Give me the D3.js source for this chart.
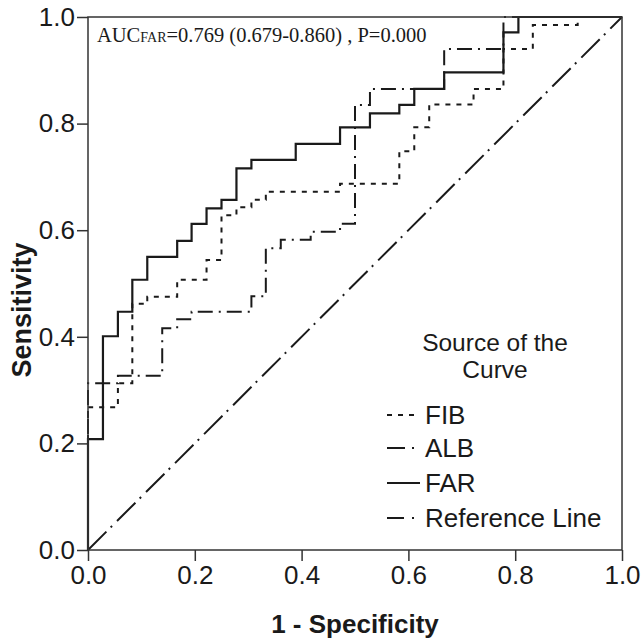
<!DOCTYPE html>
<html>
<head>
<meta charset="utf-8">
<script src="https://cdn.jsdelivr.net/npm/d3@7"></script>
<style>
  html, body { margin: 0; padding: 0; background: #fff; }
  svg { display: block; }
</style>
</head>
<body>
<svg id="chart" width="643" height="638"></svg>
<script>
// ---- Data (ROC step points: 1 - specificity, sensitivity) ----
const fibFpr = [0, 0.056, 0.083, 0.111, 0.167, 0.222, 0.25, 0.278, 0.306, 0.333, 0.472, 0.583, 0.611, 0.639, 0.722, 0.778, 0.833, 0.917, 1];
const fibTpr = [0, 0.268, 0.313, 0.462, 0.475, 0.507, 0.544, 0.628, 0.643, 0.657, 0.672, 0.687, 0.748, 0.793, 0.836, 0.865, 0.940, 0.985, 1];

const albFpr = [0, 0.056, 0.139, 0.167, 0.194, 0.306, 0.333, 0.361, 0.417, 0.472, 0.5, 0.528, 0.667, 0.778, 1];
const albTpr = [0, 0.313, 0.327, 0.416, 0.433, 0.447, 0.476, 0.566, 0.582, 0.597, 0.612, 0.835, 0.865, 0.940, 1];

const farFpr = [0, 0.028, 0.056, 0.083, 0.111, 0.167, 0.194, 0.222, 0.25, 0.278, 0.306, 0.389, 0.472, 0.528, 0.583, 0.611, 0.667, 0.778, 0.806, 1];
const farTpr = [0, 0.208, 0.401, 0.447, 0.507, 0.550, 0.580, 0.612, 0.641, 0.657, 0.716, 0.732, 0.762, 0.793, 0.819, 0.835, 0.865, 0.896, 0.971, 1];

const refFpr = [0, 1];
const refTpr = [0, 1];

const seriesNames = ["FIB", "ALB", "FAR", "Reference Line"];
const tickValues = [0, 0.2, 0.4, 0.6, 0.8, 1.0];
const xTitle = "1 - Specificity";
const yTitle = "Sensitivity";
const legendTitle = ["Source of the", "Curve"];
const aucMain = "AUC";
const aucSub = "FAR";
const aucRest = "=0.769 (0.679-0.860) , P=0.000";

// ---- Layout ----
const svg = d3.select("#chart");
const ink = "#1a1a1a";
const x = d3.scaleLinear().domain([0, 1]).range([88, 622]);
const y = d3.scaleLinear().domain([0, 1]).range([550, 17]);
const sans = "'Liberation Sans', Arial, sans-serif";
const serif = "'Liberation Serif', 'Times New Roman', serif";

const styles = {
  "FIB": { dash: "5,6", width: 2 },
  "ALB": { dash: "15,6,2,6", width: 2 },
  "FAR": { dash: null, width: 2.2 },
  "Reference Line": { dash: "26,6,2,7", width: 2 }
};
const legendDash = { "FIB": "5,6", "ALB": "18,7,2,6", "FAR": null, "Reference Line": "17,8,2,6" };
const legendLen = { "FIB": 30, "ALB": 30, "FAR": 33, "Reference Line": 28 };

// Axes
const xAxis = d3.axisBottom(x).tickValues(tickValues).tickFormat(d3.format(".1f")).tickSize(11).tickPadding(5);
const yAxis = d3.axisLeft(y).tickValues(tickValues).tickFormat(d3.format(".1f")).tickSize(11).tickPadding(2);

const gx = svg.append("g").attr("transform", "translate(0,550)").call(xAxis);
const gy = svg.append("g").attr("transform", "translate(88,0)").call(yAxis);
[gx, gy].forEach(g => {
  g.select(".domain").remove();
  g.selectAll(".tick line").attr("stroke", "#333").attr("stroke-width", 1.5);
  g.selectAll(".tick text").attr("fill", ink).style("font-family", sans).style("font-size", "26px");
});

// Series lines
const lineGen = d3.line().x(d => x(d[0])).y(d => y(d[1])).curve(d3.curveStepBefore);
const refLine = d3.line().x(d => x(d[0])).y(d => y(d[1]));

const plotG = svg.append("g");
function drawSeries(name, fpr, tpr, gen) {
  const pts = fpr.map((f, i) => [f, tpr[i]]);
  const st = styles[name];
  plotG.append("path")
    .datum(pts)
    .attr("d", gen)
    .attr("fill", "none")
    .attr("stroke", ink)
    .attr("stroke-width", st.width)
    .attr("stroke-dasharray", st.dash)
    .attr("stroke-linecap", "butt");
}
drawSeries("FIB", fibFpr, fibTpr, lineGen);
drawSeries("ALB", albFpr, albTpr, lineGen);
drawSeries("Reference Line", refFpr, refTpr, refLine);
drawSeries("FAR", farFpr, farTpr, lineGen);

// Frame
svg.append("rect")
  .attr("x", x(0)).attr("y", y(1))
  .attr("width", x(1) - x(0)).attr("height", y(0) - y(1))
  .attr("fill", "none").attr("stroke", "#333").attr("stroke-width", 1.5);

// AUC annotation
const auc = svg.append("text")
  .attr("x", 97).attr("y", 42)
  .attr("fill", ink)
  .style("font-family", serif).style("font-size", "20.5px");
auc.append("tspan").text(aucMain);
auc.append("tspan").style("font-size", "14px").text(aucSub);
auc.append("tspan").text(aucRest);

// Axis titles
svg.append("text")
  .attr("x", (x(0) + x(1)) / 2).attr("y", 633)
  .attr("text-anchor", "middle")
  .attr("fill", ink)
  .style("font-family", sans).style("font-size", "26px").style("font-weight", "bold")
  .text(xTitle);

svg.append("text")
  .attr("transform", "translate(31,310) rotate(-90)")
  .attr("text-anchor", "middle")
  .attr("fill", ink)
  .style("font-family", sans).style("font-size", "27px").style("font-weight", "bold")
  .text(yTitle);

// Legend
const lg = svg.append("g");
legendTitle.forEach((t, i) => {
  lg.append("text")
    .attr("x", 495).attr("y", 351 + i * 27)
    .attr("text-anchor", "middle")
    .attr("fill", ink)
    .style("font-family", sans).style("font-size", "24.5px")
    .text(t);
});
const legendY = [415, 448, 483, 518];
seriesNames.forEach((name, i) => {
  const st = styles[name];
  const yy = legendY[i];
  lg.append("line")
    .attr("x1", 387).attr("x2", 387 + legendLen[name])
    .attr("y1", yy).attr("y2", yy)
    .attr("stroke", ink).attr("stroke-width", st.width)
    .attr("stroke-dasharray", legendDash[name]);
  lg.append("text")
    .attr("x", 425).attr("y", yy + 9)
    .attr("fill", ink)
    .style("font-family", sans).style("font-size", "26px")
    .text(name);
});
</script>
</body>
</html>
